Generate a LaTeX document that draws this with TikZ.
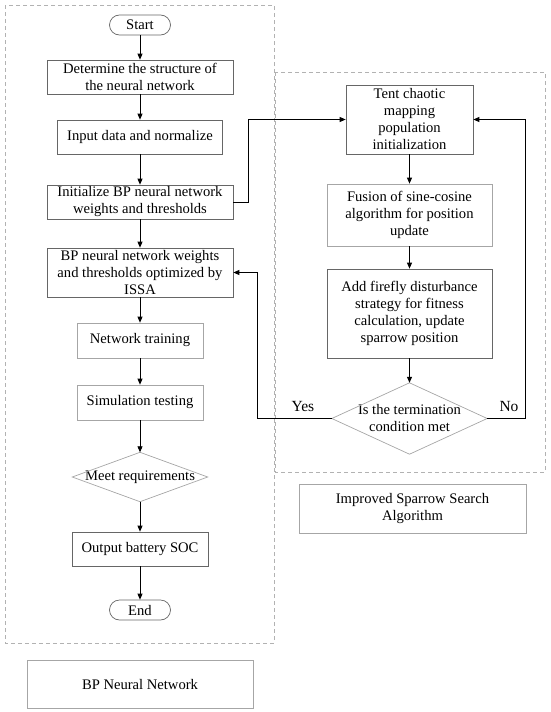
\documentclass[tikz,border=0pt]{standalone}
\usepackage{fontspec}
\setmainfont{Liberation Serif}
\usetikzlibrary{arrows.meta,calc}
\begin{document}
\begin{tikzpicture}[x=1pt,y=-1pt,
  font=\fontsize{14.6}{17}\selectfont,
  box/.style={draw=black!60, line width=0.7pt, align=center, inner sep=0pt, fill=white},
  lbox/.style={draw=black!35, line width=0.7pt, align=center, inner sep=0pt, fill=white},
  term/.style={draw=black!60, line width=0.7pt, rounded corners=10pt, align=center, inner sep=0pt, minimum width=61pt, minimum height=20pt},
  dia/.style={align=center, inner sep=0pt},
  group/.style={draw=black!30, line width=0.7pt, dash pattern=on 4pt off 3pt},
  arr/.style={draw=black, line width=0.8pt, -{Triangle[length=6pt,width=5pt]}},
  lbl/.style={font=\fontsize{15.5}{18}\selectfont}
]
\useasboundingbox (0,0) rectangle (550,712);
% group frames
\draw[group] (5,5) rectangle (274,643);
\draw[group] (275,72) rectangle (545,472);

% left column
\node[term] (start) at (140,25) {Start};
\node[box, minimum width=186pt, minimum height=34pt] (b1) at (140,77) {Determine the structure of\\the neural network};
\node[box, minimum width=165pt, minimum height=34pt] (b2) at (140,137) {Input data and normalize};
\node[box, minimum width=186pt, minimum height=34pt] (b3) at (140,202) {Initialize BP neural network\\weights and thresholds};
\node[box, minimum width=186pt, minimum height=49pt] (b4) at (140,272.5) {BP neural network weights\\and thresholds optimized by\\ISSA};
\node[lbox, minimum width=126pt, minimum height=35pt] (b5) at (140,340.5) {Network training};
\node[lbox, minimum width=126pt, minimum height=35pt] (b6) at (140,402.5) {Simulation testing};
\node[dia, minimum width=135pt, minimum height=49pt] (d1) at (140,477) {Meet requirements};
\draw[draw=black!35, line width=0.7pt] (d1.north) -- (d1.east) -- (d1.south) -- (d1.west) -- cycle;
\node[box, minimum width=136pt, minimum height=34pt] (b7) at (140,549) {Output battery SOC};
\node[term] (end) at (140,610) {End};
\node[lbox, minimum width=226pt, minimum height=48pt] (lab1) at (140,684) {BP Neural Network};

% right column
\node[box, minimum width=127pt, minimum height=69pt] (t1) at (409.5,119.5) {Tent chaotic\\mapping\\population\\initialization};
\node[lbox, minimum width=165pt, minimum height=62pt] (t2) at (409.5,215) {Fusion of sine-cosine\\algorithm for position\\update};
\node[box, minimum width=165pt, minimum height=89pt] (t3) at (409.5,313.5) {Add firefly disturbance\\strategy for fitness\\calculation, update\\sparrow position};
\node[dia, minimum width=155pt, minimum height=71pt] (d2) at (409.5,418.5) {Is the termination\\condition met};
\draw[draw=black!35, line width=0.7pt] (d2.north) -- (d2.east) -- (d2.south) -- (d2.west) -- cycle;
\node[lbox, minimum width=227pt, minimum height=49pt] (lab2) at (412.5,508.5) {Improved Sparrow Search\\Algorithm};

% connectors
\draw[arr] (start) -- (b1);
\draw[arr] (b1) -- (b2);
\draw[arr] (b2) -- (b3);
\draw[arr] (b3) -- (b4);
\draw[arr] (b4) -- (b5);
\draw[arr] (b5) -- (b6);
\draw[arr] (b6) -- (d1.north);
\draw[arr] (d1.south) -- (b7);
\draw[arr] (b7) -- (end);

\draw[arr] (b3.east) -- ++(15,0) |- (t1.west);
\draw[arr] (t1) -- (t2);
\draw[arr] (t2) -- (t3);
\draw[arr] (t3) -- (d2.north);
\draw[arr] (d2.west) -- ++(-74,0) |- (b4.east);
\draw[arr] (d2.east) -- ++(38,0) |- (t1.east);

\node[lbl] (yes) at (303,406) {Yes};
\node[lbl] (no) at (509,406) {No};
\end{tikzpicture}
\end{document}
